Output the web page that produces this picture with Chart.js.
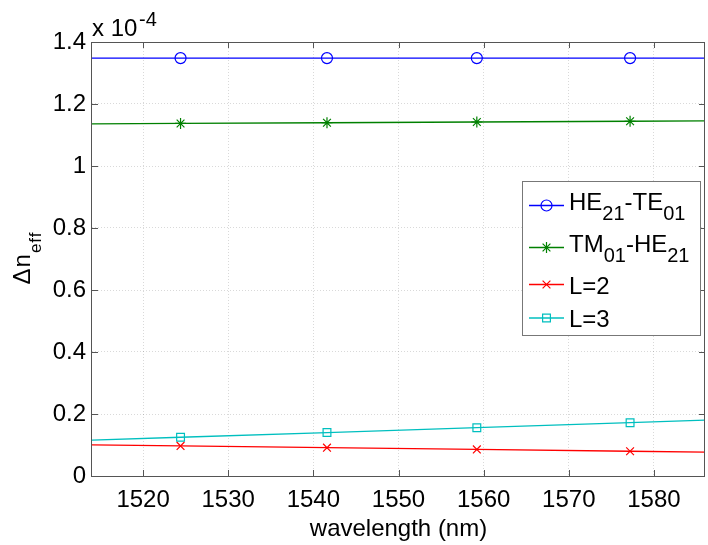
<!DOCTYPE html>
<html lang="en">
<head>
  <meta charset="UTF-8" />
  <title>Delta n_eff vs wavelength</title>
  <script src="https://cdn.jsdelivr.net/npm/chart.js"></script>
  <style>
    body { margin: 0; background: #fff; }
    #wrap { width: 708px; height: 545px; }
  </style>
</head>
<body>
  <div id="wrap"><canvas id="chart" width="708" height="545"></canvas></div>

  <script>
    // --- data (values in units of 1e-4) ---
    const wavelengths = [1514, 1524.4, 1541.6, 1559.2, 1577.2, 1586];
    const markerWavelengths = [1524.4, 1541.6, 1559.2, 1577.2];
    const he21Te01 = [1.348, 1.348, 1.348, 1.348, 1.348, 1.348];
    const tm01He21 = [1.136, 1.1372, 1.1395, 1.1419, 1.1443, 1.1455];
    const l2 = [0.1005, 0.0970, 0.0914, 0.0857, 0.0798, 0.0770];
    const l3 = [0.1155, 0.1250, 0.1402, 0.1558, 0.1720, 0.1800];
    const seriesLabels = ['HE_{21}-TE_{01}', 'TM_{01}-HE_{21}', 'L=2', 'L=3'];
    const xTicks = [1520, 1530, 1540, 1550, 1560, 1570, 1580];
    const yTicks = [0, 0.2, 0.4, 0.6, 0.8, 1, 1.2, 1.4];

    const FONT = '"Liberation Sans", Arial, Helvetica, sans-serif';
    const colors = ['#0000ff', '#008000', '#ff0000', '#00bfbf'];
    const markers = ['circle', 'star', 'crossRot', 'rect'];
    const allSeries = [he21Te01, tm01He21, l2, l3];

    // marker only at the sampled wavelengths, plain line at the ends
    function markerRadius(ctx) {
      const x = wavelengths[ctx.dataIndex];
      return markerWavelengths.includes(x) ? 5.5 : 0;
    }

    const datasets = allSeries.map((vals, i) => ({
      label: seriesLabels[i],
      data: wavelengths.map((w, j) => ({ x: w, y: vals[j] })),
      borderColor: colors[i],
      borderWidth: 1.3,
      pointStyle: markers[i],
      pointRadius: markerRadius,
      pointBorderColor: colors[i],
      pointBackgroundColor: 'rgba(0,0,0,0)',
      pointBorderWidth: 1.2,
      tension: 0
    }));

    // draw text with _{...} subscripts, returns width
    function richText(ctx, str, x, y, size, subSize, subDrop, measureOnly) {
      const parts = str.split(/_\{([^}]*)\}/);
      let cx = x;
      parts.forEach((p, k) => {
        if (!p) return;
        const sub = k % 2 === 1;
        ctx.font = (sub ? subSize : size) + 'px ' + FONT;
        if (!measureOnly) ctx.fillText(p, cx, sub ? y + subDrop : y);
        cx += ctx.measureText(p).width;
      });
      return cx - x;
    }

    function drawMarker(ctx, style, x, y, r, color) {
      ctx.save();
      ctx.strokeStyle = color;
      ctx.lineWidth = 1.2;
      ctx.beginPath();
      if (style === 'circle') {
        ctx.arc(x, y, r, 0, Math.PI * 2);
      } else if (style === 'rect') {
        const s = r * Math.SQRT1_2;
        ctx.rect(x - s, y - s, 2 * s, 2 * s);
      } else {
        const d = r * Math.SQRT1_2;
        ctx.moveTo(x - d, y - d); ctx.lineTo(x + d, y + d);
        ctx.moveTo(x - d, y + d); ctx.lineTo(x + d, y - d);
        if (style === 'star') {
          ctx.moveTo(x - r, y); ctx.lineTo(x + r, y);
          ctx.moveTo(x, y - r); ctx.lineTo(x, y + r);
        }
      }
      ctx.stroke();
      ctx.restore();
    }

    const matlabFrame = {
      id: 'matlabFrame',
      afterDraw(chart) {
        const { ctx, chartArea: a, scales } = chart;
        ctx.save();

        // axes box with inward ticks
        ctx.strokeStyle = '#555';
        ctx.lineWidth = 1;
        ctx.strokeRect(a.left - 0.5, a.top + 0.5, a.right - a.left, a.bottom - a.top);
        ctx.beginPath();
        scales.x.ticks.forEach(t => {
          const px = Math.round(scales.x.getPixelForValue(t.value)) + 0.5;
          ctx.moveTo(px, a.bottom); ctx.lineTo(px, a.bottom - 6);
          ctx.moveTo(px, a.top); ctx.lineTo(px, a.top + 6);
        });
        scales.y.ticks.forEach(t => {
          const py = Math.round(scales.y.getPixelForValue(t.value)) + 0.5;
          ctx.moveTo(a.left, py); ctx.lineTo(a.left + 6, py);
          ctx.moveTo(a.right, py); ctx.lineTo(a.right - 6, py);
        });
        ctx.stroke();

        ctx.fillStyle = '#000';
        ctx.textBaseline = 'alphabetic';
        ctx.textAlign = 'left';

        // exponent label
        ctx.font = '24px ' + FONT;
        ctx.fillText('x 10', 92, 36);
        ctx.font = '20px ' + FONT;
        ctx.fillText('-4', 139, 26);

        // x title
        ctx.font = '24px ' + FONT;
        ctx.textAlign = 'center';
        ctx.fillText('wavelength (nm)', (a.left + a.right) / 2, 536);
        ctx.textAlign = 'left';

        // y title, rotated
        ctx.save();
        ctx.translate(30, 258);
        ctx.rotate(-Math.PI / 2);
        ctx.letterSpacing = '1px';
        const yt = '\u0394n_{eff}';
        const w = richText(ctx, yt, 0, 0, 24, 17, 11, true);
        richText(ctx, yt, -w / 2, 0, 24, 17, 11, false);
        ctx.restore();

        // legend
        const box = { x: 522.5, y: 181.5, w: 178, h: 154 };
        ctx.fillStyle = '#fff';
        ctx.fillRect(box.x, box.y, box.w, box.h);
        ctx.strokeStyle = '#777';
        ctx.strokeRect(box.x, box.y, box.w, box.h);
        const rowY = [205.5, 247.5, 284.5, 318];
        seriesLabels.forEach((lab, i) => {
          const y = rowY[i];
          ctx.strokeStyle = colors[i];
          ctx.lineWidth = 1.3;
          ctx.beginPath();
          ctx.moveTo(529, y); ctx.lineTo(564, y);
          ctx.stroke();
          drawMarker(ctx, markers[i], 546.5, y, 5.5, colors[i]);
          ctx.fillStyle = '#000';
          const hasSub = lab.includes('_{');
          richText(ctx, lab, 569, y + (hasSub ? 4.5 : 9), 24, 20, 10, false);
        });

        ctx.restore();
      }
    };

    new Chart(document.getElementById('chart'), {
      type: 'line',
      data: { datasets },
      options: {
        responsive: false,
        animation: false,
        devicePixelRatio: 1,
        layout: { padding: { top: 42, right: 3, left: 0, bottom: 0 } },
        plugins: { legend: { display: false }, tooltip: { enabled: false } },
        scales: {
          x: {
            type: 'linear',
            min: 1514,
            max: 1586,
            afterBuildTicks: s => { s.ticks = xTicks.map(v => ({ value: v })); },
            afterFit: s => { s.height = 69; },
            ticks: {
              color: '#000',
              font: { family: FONT, size: 24 },
              padding: 10,
              maxRotation: 0,
              autoSkip: false,
              callback: v => String(v)
            },
            grid: { color: 'rgba(0,0,0,0.15)', lineWidth: 1, drawTicks: false },
            border: { display: false, dash: [1, 2] }
          },
          y: {
            type: 'linear',
            min: 0,
            max: 1.4,
            afterBuildTicks: s => { s.ticks = yTicks.map(v => ({ value: v })); },
            afterFit: s => { s.width = 92; },
            ticks: {
              color: '#000',
              font: { family: FONT, size: 24 },
              padding: 6,
              autoSkip: false,
              callback: v => String(Math.round(v * 10) / 10)
            },
            grid: { color: 'rgba(0,0,0,0.15)', lineWidth: 1, drawTicks: false },
            border: { display: false, dash: [1, 2] }
          }
        }
      },
      plugins: [matlabFrame]
    });
  </script>
</body>
</html>
